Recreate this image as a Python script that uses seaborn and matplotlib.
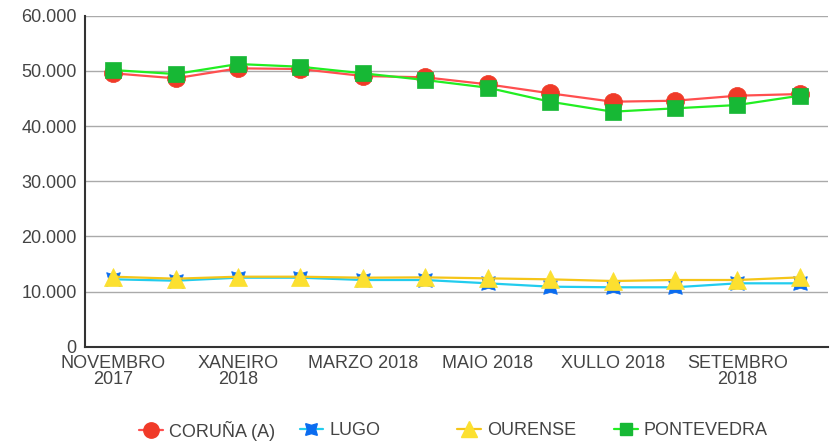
import numpy as np
import pandas as pd
import seaborn as sns
import matplotlib
matplotlib.use("Agg")
import matplotlib.pyplot as plt
from matplotlib.lines import Line2D
from matplotlib.ticker import FuncFormatter

#monthly values per province, nov 2017 - oct 2018
months=["NOVEMBRO 2017","DECEMBRO 2017","XANEIRO 2018","FEBREIRO 2018","MARZO 2018","ABRIL 2018",
	"MAIO 2018","XUÑO 2018","XULLO 2018","AGOSTO 2018","SETEMBRO 2018","OUTUBRO 2018"]
tick_labels=["NOVEMBRO\n2017","XANEIRO\n2018","MARZO 2018","MAIO 2018","XULLO 2018","SETEMBRO\n2018"]

coruna=[49560,48650,50460,50340,49070,48830,47560,45930,44410,44590,45500,45800]
lugo=[12220,11960,12510,12510,12090,12090,11490,10880,10770,10770,11490,11490]
ourense=[12690,12330,12690,12690,12510,12570,12390,12210,11910,12090,12090,12570]
pontevedra=[50150,49430,51240,50750,49560,48340,46950,44410,42600,43210,43810,45500]

series=[("CORUÑA (A)",coruna,"#ff4f4f","#f03a28","o",13),
	("LUGO",lugo,"#22ccee","#0a6cf0",(4,1,45),14),
	("OURENSE",ourense,"#f5c518","#fce030","^",13),
	("PONTEVEDRA",pontevedra,"#22ee22","#17b835","s",11)]

sns.set_style("white")
plt.rcParams['font.family']=['Liberation Sans','DejaVu Sans']

fig=plt.figure(figsize=(8.3,4.45),dpi=100)
ax=fig.add_axes([0.1024,0.2209,0.8952,0.7438])

x=np.arange(len(months))
for name,vals,lc,mc,mk,ms in series:
	sns.lineplot(x=x,y=vals,ax=ax,color=lc,lw=1.6,marker=mk,markersize=ms,
		markerfacecolor=mc,markeredgecolor=mc,markeredgewidth=0.5)

ax.set_xlim(-0.45,11.45)
ax.set_ylim(0,60000)
ax.set_yticks(np.arange(0,60001,10000))
ax.yaxis.set_major_formatter(FuncFormatter(lambda v,p: f"{int(v):,}".replace(",",".")))
ax.set_xticks(x[::2])
ax.set_xticklabels(tick_labels,linespacing=0.95)
ax.tick_params(axis="both",length=0,labelsize=13,labelcolor="#444444")
ax.tick_params(axis="x",pad=6)
ax.tick_params(axis="y",pad=6)
ax.grid(axis="y",color="#aaaaaa",lw=1)
ax.set_axisbelow(True)
for s in ["top","right"]:
	ax.spines[s].set_visible(False)
for s in ["left","bottom"]:
	ax.spines[s].set_color("#333333")
	ax.spines[s].set_linewidth(1.5)

#one legend per entry so the columns sit where the original has them
legend_x=[0.168,0.361,0.551,0.740]
for (name,vals,lc,mc,mk,ms),lx in zip(series,legend_x):
	h=Line2D([],[],color=lc,lw=1.6,marker=mk,markersize=ms*0.85,markerfacecolor=mc,markeredgecolor=mc)
	fig.legend(handles=[h],labels=[name],loc="center left",bbox_to_anchor=(lx,0.032),
		frameon=False,handlelength=1.3,handletextpad=0.35,borderpad=0,borderaxespad=0,
		prop={"size":13},labelcolor="#444444")

plt.savefig("out.png",dpi=100)
